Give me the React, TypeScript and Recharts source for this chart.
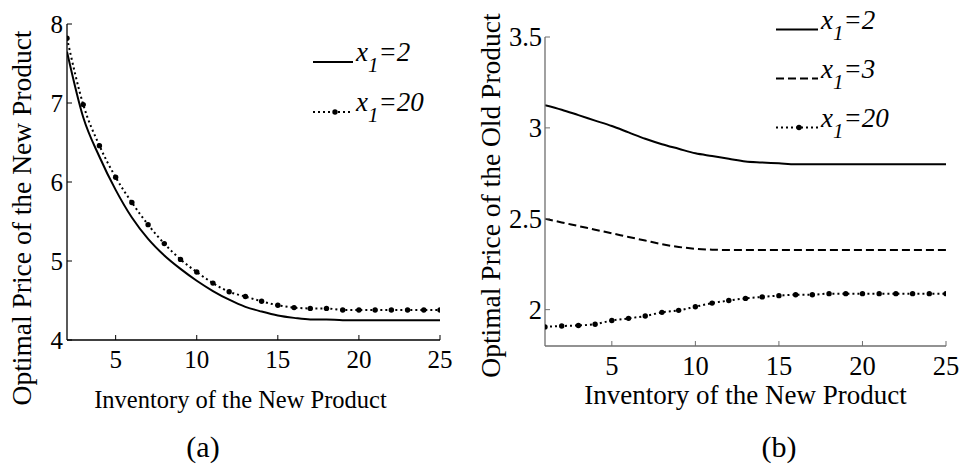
import React from 'react';
import { LineChart, Line, XAxis, YAxis, Legend } from 'recharts';

// ---------- data: panel (a) ----------
const inventoryA = [2, 3, 4, 5, 6, 7, 8, 9, 10, 11, 12, 13, 14, 15, 16, 17, 18, 19, 20, 21, 22, 23, 24, 25];
const newPriceX2 = [7.65, 6.82, 6.32, 5.9, 5.55, 5.28, 5.07, 4.9, 4.75, 4.62, 4.51, 4.42, 4.36, 4.31, 4.28, 4.26, 4.26, 4.25, 4.25, 4.25, 4.25, 4.25, 4.25, 4.25];
const newPriceX20 = [7.82, 6.98, 6.46, 6.06, 5.74, 5.46, 5.22, 5.02, 4.86, 4.72, 4.61, 4.55, 4.49, 4.44, 4.41, 4.4, 4.4, 4.38, 4.38, 4.38, 4.38, 4.38, 4.38, 4.38];
const xTicksA = [5, 10, 15, 20, 25];
const yTicksA = [4, 5, 6, 7, 8];

// ---------- data: panel (b) ----------
const inventoryB = [1, 2, 3, 4, 5, 6, 7, 8, 9, 10, 11, 12, 13, 14, 15, 16, 17, 18, 19, 20, 21, 22, 23, 24, 25];
const oldPriceX2 = [3.125, 3.1, 3.07, 3.04, 3.01, 2.975, 2.94, 2.91, 2.885, 2.86, 2.845, 2.83, 2.815, 2.81, 2.805, 2.8, 2.8, 2.8, 2.8, 2.8, 2.8, 2.8, 2.8, 2.8, 2.8];
const oldPriceX3 = [2.5, 2.48, 2.46, 2.44, 2.42, 2.4, 2.38, 2.36, 2.345, 2.335, 2.33, 2.328, 2.328, 2.328, 2.328, 2.328, 2.328, 2.328, 2.328, 2.328, 2.328, 2.328, 2.328, 2.328, 2.328];
const oldPriceX20 = [1.905, 1.91, 1.913, 1.92, 1.94, 1.952, 1.965, 1.985, 1.996, 2.016, 2.036, 2.05, 2.062, 2.07, 2.077, 2.082, 2.082, 2.088, 2.088, 2.088, 2.088, 2.088, 2.088, 2.088, 2.088];
const xTicksB = [5, 10, 15, 20, 25];
const yTicksB = [2, 2.5, 3, 3.5];

const dataA = inventoryA.map((x, i) => ({ x, a2: newPriceX2[i], a20: newPriceX20[i] }));
const dataB = inventoryB.map((x, i) => ({ x, b2: oldPriceX2[i], b3: oldPriceX3[i], b20: oldPriceX20[i] }));

const SERIF = '"Liberation Serif", "Times New Roman", serif';
const ORDER = ['a2', 'a20', 'b2', 'b3', 'b20'];

const STYLE: Record<string, { width: number; dash?: string; dot: boolean }> = {
  a2: { width: 2, dot: false },
  a20: { width: 2, dash: '2 3', dot: true },
  b2: { width: 2, dot: false },
  b3: { width: 2, dash: '8 4', dot: false },
  b20: { width: 2, dash: '2 3', dot: true },
};

const makeXTick = (fs: number, dy: number, color: string) => (p: any) => (
  <g>
    <line x1={p.x} y1={p.y} x2={p.x} y2={p.y - 5} stroke={color} strokeWidth={1} />
    <text x={p.x} y={p.y + dy} textAnchor="middle" fontSize={fs} fontFamily={SERIF} style={{ fontFamily: SERIF }} fill="#000">
      {p.payload.value}
    </text>
  </g>
);

const makeYTick = (fs: number, gap: number, color: string) => (p: any) => (
  <g>
    <line x1={p.x} y1={p.y} x2={p.x + 5} y2={p.y} stroke={color} strokeWidth={1} />
    <text x={p.x - gap} y={p.y} textAnchor="end" dominantBaseline="central" fontSize={fs} fontFamily={SERIF} style={{ fontFamily: SERIF }} fill="#000">
      {p.payload.value}
    </text>
  </g>
);

const xTitle = (text: string, dx: number, dy: number, fs: number) => ({
  content: (p: any) => {
    const vb = p.viewBox;
    return (
      <text x={vb.x + vb.width / 2 + dx} y={vb.y + dy} textAnchor="middle" fontSize={fs} style={{ fontFamily: SERIF }} fill="#000">
        {text}
      </text>
    );
  },
});

const yTitle = (text: string, cxAbs: number, dy: number, fs: number) => ({
  content: (p: any) => {
    const vb = p.viewBox;
    const cx = cxAbs;
    const cy = vb.y + vb.height / 2 + dy;
    return (
      <text
        x={cx}
        y={cy}
        transform={`rotate(-90 ${cx} ${cy})`}
        textAnchor="middle"
        dominantBaseline="central"
        fontSize={fs}
        style={{ fontFamily: SERIF }}
        fill="#000"
      >
        {text}
      </text>
    );
  },
});

const makeLegend = (firstY: number, rowGap: number, lineLen: number) => (props: any) => {
  const payload = [...(props.payload || [])].sort((a: any, b: any) => ORDER.indexOf(a.dataKey) - ORDER.indexOf(b.dataKey));
  return (
    <svg width={180} height={firstY + rowGap * payload.length} style={{ display: 'block', overflow: 'visible' }}>
      {payload.map((e: any, i: number) => {
        const st = STYLE[e.dataKey];
        const y = firstY + i * rowGap;
        const val = String(e.value).split('=')[1];
        return (
          <g key={i}>
            <line x1={0} y1={y} x2={lineLen} y2={y} stroke="#000" strokeWidth={st.width} strokeDasharray={st.dash} />
            {st.dot && <circle cx={lineLen / 2 + 2} cy={y} r={2.7} fill="#000" />}
            <text x={lineLen + 3} y={y - 1} fontFamily={SERIF} style={{ fontFamily: SERIF, fontStyle: 'italic' }} fontSize={27} fill="#000">
              x
              <tspan fontSize={21} dy={11}>1</tspan>
              <tspan fontSize={27} dy={-11}>={val}</tspan>
            </text>
          </g>
        );
      })}
    </svg>
  );
};

export default function App() {
  return (
    <div style={{ position: 'absolute', left: 0, top: 0, width: 964, height: 468, background: '#fff', overflow: 'hidden' }}>
      <div style={{ position: 'absolute', left: 0, top: 0 }}>
        <LineChart width={470} height={468} data={dataA} margin={{ top: 24, right: 30, bottom: 0, left: 0 }}>
          <XAxis
            type="number"
            dataKey="x"
            domain={[2, 25]}
            ticks={xTicksA}
            allowDataOverflow
            height={128}
            tickSize={0}
            tickMargin={0}
            tickLine={false}
            axisLine={{ stroke: '#000', strokeWidth: 1.3 }}
            tick={makeXTick(25, 28, '#000')}
            interval={0}
            label={xTitle('Inventory of the New Product', -13, 68, 24.5)}
          />
          <YAxis
            type="number"
            domain={[4, 8]}
            ticks={yTicksA}
            allowDataOverflow
            width={67}
            tickSize={0}
            tickMargin={0}
            tickLine={false}
            axisLine={{ stroke: '#000', strokeWidth: 1.3 }}
            tick={makeYTick(25, 4, '#000')}
            interval={0}
            label={yTitle('Optimal Price of the New Product', 21, 36, 27.5)}
          />
          <Legend
            layout="vertical"
            align="center"
            verticalAlign="middle"
            content={makeLegend(22, 50, 40)}
            wrapperStyle={{ left: 313, top: 40, width: 150, height: 130 }}
          />
          <Line
            type="monotone"
            dataKey="a2"
            name="x1=2"
            stroke="#000"
            strokeWidth={STYLE.a2.width}
            dot={false}
            isAnimationActive={false}
          />
          <Line
            type="monotone"
            dataKey="a20"
            name="x1=20"
            stroke="#000"
            strokeWidth={STYLE.a20.width}
            strokeDasharray={STYLE.a20.dash}
            dot={{ r: 2.7, fill: '#000', stroke: 'none', strokeWidth: 0 }}
            isAnimationActive={false}
          />
        </LineChart>
      </div>
      <div style={{ position: 'absolute', left: 470, top: 0 }}>
        <LineChart width={494} height={468} data={dataB} margin={{ top: 37, right: 18, bottom: 0, left: 0 }}>
          <XAxis
            type="number"
            dataKey="x"
            domain={[1, 25]}
            ticks={xTicksB}
            allowDataOverflow
            height={122}
            tickSize={0}
            tickMargin={0}
            tickLine={false}
            axisLine={{ stroke: '#6e6e6e', strokeWidth: 1.3 }}
            tick={makeXTick(26.5, 29, '#6e6e6e')}
            interval={0}
            label={xTitle('Inventory of the New Product', 0, 58, 27)}
          />
          <YAxis
            type="number"
            domain={[1.8, 3.5]}
            ticks={yTicksB}
            allowDataOverflow
            width={75}
            tickSize={0}
            tickMargin={0}
            tickLine={false}
            axisLine={{ stroke: '#6e6e6e', strokeWidth: 1.3 }}
            tick={makeYTick(26.5, 3, '#6e6e6e')}
            interval={0}
            label={yTitle('Optimal Price of the Old Product', 20, 4, 27.5)}
          />
          <Legend
            layout="vertical"
            align="center"
            verticalAlign="middle"
            content={makeLegend(21.5, 49, 42)}
            wrapperStyle={{ left: 306, top: 8, width: 180, height: 175 }}
          />
          <Line
            type="monotone"
            dataKey="b2"
            name="x1=2"
            stroke="#000"
            strokeWidth={STYLE.b2.width}
            dot={false}
            isAnimationActive={false}
          />
          <Line
            type="monotone"
            dataKey="b3"
            name="x1=3"
            stroke="#000"
            strokeWidth={STYLE.b3.width}
            strokeDasharray={STYLE.b3.dash}
            dot={false}
            isAnimationActive={false}
          />
          <Line
            type="monotone"
            dataKey="b20"
            name="x1=20"
            stroke="#000"
            strokeWidth={STYLE.b20.width}
            strokeDasharray={STYLE.b20.dash}
            dot={{ r: 2.7, fill: '#000', stroke: 'none', strokeWidth: 0 }}
            isAnimationActive={false}
          />
        </LineChart>
      </div>
      <div style={{ position: 'absolute', left: 153, top: 432, width: 100, textAlign: 'center', fontFamily: SERIF, fontSize: 30, lineHeight: '30px' }}>
        (a)
      </div>
      <div style={{ position: 'absolute', left: 729, top: 432, width: 100, textAlign: 'center', fontFamily: SERIF, fontSize: 30, lineHeight: '30px' }}>
        (b)
      </div>
    </div>
  );
}
